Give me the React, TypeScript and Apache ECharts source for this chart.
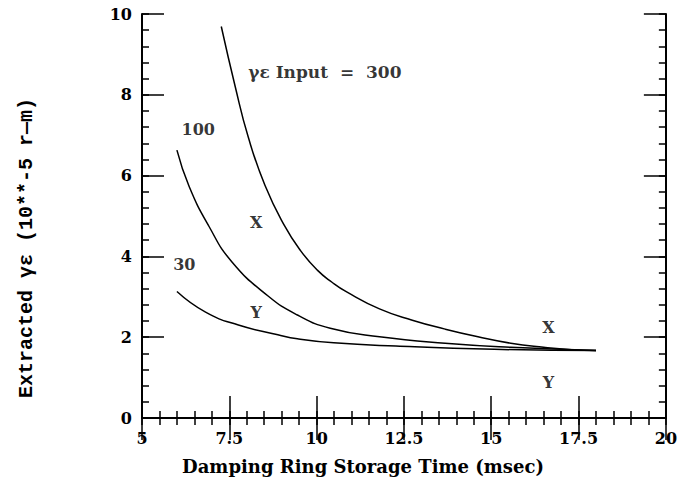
import React, { useEffect, useRef } from "react";
import * as echarts from "echarts";

// Curve for γε input = 300
const x300 = [7.27, 7.67, 8.04, 8.52, 9.08, 9.55, 10.02, 10.44, 10.86, 11.8, 12.74, 13.68, 14.62, 15.56, 16.5, 17.3, 18.0];
const y300 = [9.69, 8.2, 6.96, 5.76, 4.76, 4.13, 3.66, 3.36, 3.12, 2.7, 2.42, 2.2, 2.01, 1.85, 1.75, 1.69, 1.67];
// Curve for γε input = 100
const x100 = [6.0, 6.35, 6.92, 7.57, 8.61, 9.45, 10.39, 11.8, 13.68, 15.56, 18.0];
const y100 = [6.63, 5.73, 4.74, 3.87, 3.02, 2.55, 2.22, 2.01, 1.85, 1.75, 1.67];
// Curve for γε input = 30
const x30 = [6.0, 6.82, 7.76, 8.89, 9.45, 10.49, 12.27, 15.09, 18.0];
const y30 = [3.13, 2.62, 2.3, 2.06, 1.96, 1.86, 1.78, 1.7, 1.67];

// Annotations (data coordinates)
const notes = [
  { text: "γε Input  =  300", x: 8.04, y: 8.56, align: "left", size: 17 },
  { text: "100", x: 6.61, y: 7.13, align: "center", size: 16 },
  { text: "30", x: 6.21, y: 3.79, align: "center", size: 16 },
  { text: "X", x: 8.27, y: 4.83, align: "center", size: 16 },
  { text: "Y", x: 8.27, y: 2.62, align: "center", size: 16 },
  { text: "X", x: 16.64, y: 2.25, align: "center", size: 16 },
  { text: "Y", x: 16.64, y: 0.89, align: "center", size: 16 },
];

const xTitle = "Damping Ring Storage Time (msec)";
const yTitle = "Extracted γε (10**-5 r—m)";

const FONT = "DejaVu Serif";

function zip(xs: number[], ys: number[]) {
  return xs.map((x, i) => [x, ys[i]]);
}

export default function App() {
  const ref = useRef<HTMLDivElement>(null);
  useEffect(() => {
    if (!ref.current) return;
    const chart = echarts.init(ref.current, null, { renderer: "svg" });
    const label = { color: "#000", fontFamily: FONT, fontWeight: "bold", fontSize: 16 };
    const mkX = (pos: string, interval: number, len: number, showLabel: boolean, showLine: boolean) => ({
      type: "value", min: 5, max: 20, interval, position: pos,
      axisLine: { show: showLine, lineStyle: { color: "#000", width: 2 } },
      axisTick: { show: true, inside: true, length: len, lineStyle: { color: "#000", width: 1.5 } },
      splitLine: { show: false },
      axisLabel: showLabel ? { ...label, margin: 12, formatter: (v: number) => String(v) } : { show: false },
    });
    const mkY = (pos: string, interval: number, len: number, showLabel: boolean, showLine: boolean) => ({
      type: "value", min: 0, max: 10, interval, position: pos,
      axisLine: { show: showLine, lineStyle: { color: "#000", width: 2 } },
      axisTick: { show: true, inside: true, length: len, lineStyle: { color: "#000", width: 1.5 } },
      splitLine: { show: false },
      axisLabel: showLabel ? { ...label, margin: 10 } : { show: false },
    });
    const lineSeries = (xs: number[], ys: number[]) => ({
      type: "line",
      data: zip(xs, ys),
      smooth: 0.5,
      showSymbol: false,
      symbol: "none",
      lineStyle: { color: "#000", width: 1.5 },
      xAxisIndex: 0,
      yAxisIndex: 0,
    });
    chart.setOption({
      animation: false,
      backgroundColor: "#fff",
      grid: { left: 142, top: 14, width: 532, height: 404 },
      xAxis: [
        mkX("bottom", 2.5, 22, true, true),
        mkX("top", 2.5, 22, false, true),
        mkX("bottom", 0.5, 7, false, false),
        mkX("top", 0.5, 7, false, false),
      ],
      yAxis: [
        mkY("left", 2, 22, true, true),
        mkY("right", 2, 22, false, true),
        mkY("left", 0.4, 7, false, false),
        mkY("right", 0.4, 7, false, false),
      ],
      series: [
        lineSeries(x300, y300),
        lineSeries(x100, y100),
        lineSeries(x30, y30),
        {
          type: "scatter",
          symbolSize: 0,
          silent: true,
          xAxisIndex: 0,
          yAxisIndex: 0,
          data: notes.map((n) => ({
            value: [n.x, n.y],
            label: {
              show: true,
              position: "inside",
              formatter: n.text,
              align: n.align,
              verticalAlign: "middle",
              color: "#000",
              fontFamily: FONT,
              fontWeight: "bold",
              fontSize: n.size,
            },
          })),
        },
        // bind the tick-only axes to the grid
        { type: "line", data: [], xAxisIndex: 1, yAxisIndex: 1 },
        { type: "line", data: [], xAxisIndex: 2, yAxisIndex: 2 },
        { type: "line", data: [], xAxisIndex: 3, yAxisIndex: 3 },
      ],
      graphic: [
        {
          type: "text",
          x: 363,
          y: 466,
          style: {
            text: xTitle, fill: "#000", font: `bold 18px '${FONT}'`,
            textAlign: "center", textVerticalAlign: "middle",
          },
        },
        {
          type: "text",
          x: 26,
          y: 248,
          rotation: Math.PI / 2,
          style: {
            text: yTitle, fill: "#000", font: `bold 20px 'Liberation Mono'`,
            textAlign: "center", textVerticalAlign: "middle",
          },
        },
      ],
    });
    return () => chart.dispose();
  }, []);
  return <div ref={ref} style={{ width: 680, height: 477, margin: "-8px 0 0 -8px" }} />;
}
